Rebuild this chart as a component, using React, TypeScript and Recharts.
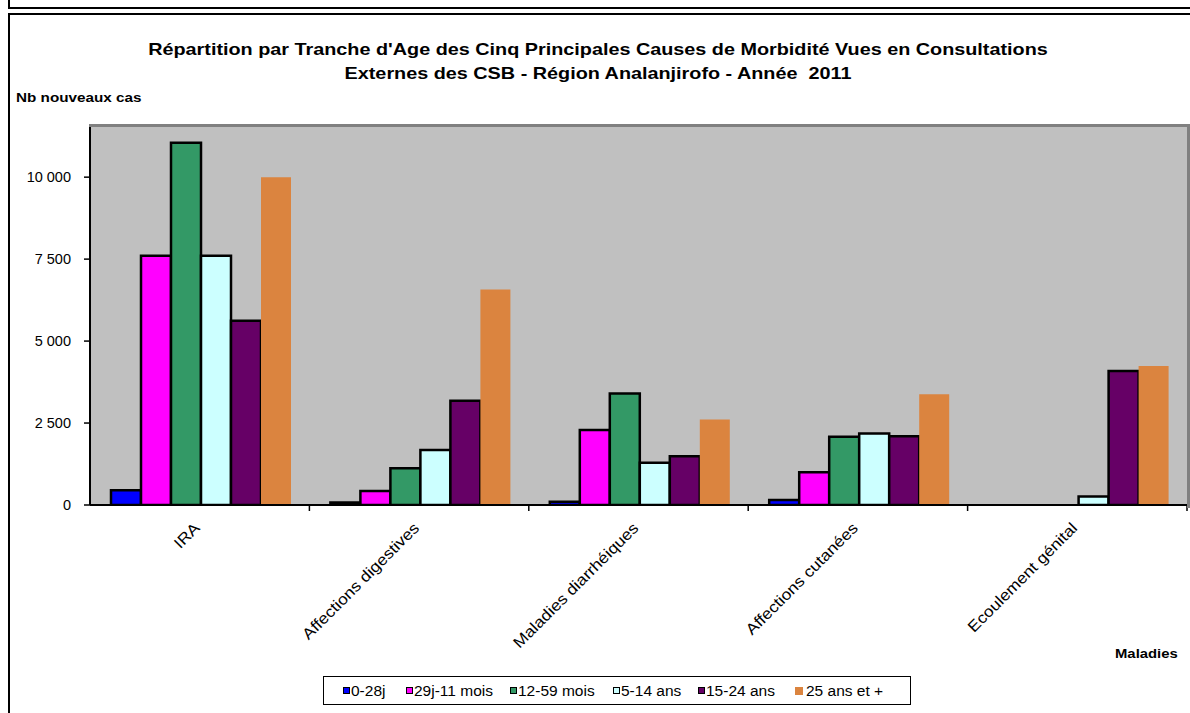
import { BarChart, Bar, XAxis, YAxis, CartesianGrid } from "recharts";

// #region Data
const categories = [
  "IRA",
  "Affections digestives",
  "Maladies diarrhéiques",
  "Affections cutanées",
  "Ecoulement génital",
];
const ageGroups = ["0-28j", "29j-11 mois", "12-59 mois", "5-14 ans", "15-24 ans", "25 ans et +"];

const cas0_28j = [450, 80, 100, 150, 0];
const cas29j_11mois = [7600, 430, 2290, 1000, 0];
const cas12_59mois = [11050, 1120, 3400, 2080, 0];
const cas5_14ans = [7600, 1680, 1290, 2180, 260];
const cas15_24ans = [5620, 3180, 1490, 2100, 4090];
const cas25ansPlus = [10000, 6570, 2610, 3380, 4240];

const yTicks = [0, 2500, 5000, 7500, 10000];
// #endregion

const seriesValues = [cas0_28j, cas29j_11mois, cas12_59mois, cas5_14ans, cas15_24ans, cas25ansPlus];
const colors = ["#0000FF", "#FF00FF", "#339966", "#CCFFFF", "#660066", "#DB843F"];
const outlined = [true, true, true, true, true, false];
// legend item offsets inside the legend box
const legendX = [19, 82, 186, 289, 374, 471];

const data = categories.map((name, i) => {
  const row: Record<string, string | number> = { name };
  ageGroups.forEach((g, s) => {
    row[g] = seriesValues[s][i];
  });
  return row;
});

const W = 1190;
const H = 713;
const PLOT_LEFT = 90;
const PLOT_RIGHT = 1187;
const PLOT_TOP = 127;
const PLOT_BOTTOM = 505;
const BAND = (PLOT_RIGHT - PLOT_LEFT) / categories.length;
const FONT = "'Liberation Sans', Arial, sans-serif";

const fmt = (v: number) => String(v).replace(/\B(?=(\d{3})+(?!\d))/g, " ");

function CategoryTick(props: any) {
  const { x, y, payload } = props;
  return (
    <g>
      <line x1={x + BAND / 2} y1={y} x2={x + BAND / 2} y2={y + 6} stroke="#000" strokeWidth={1.5} />
      <text
        transform={`translate(${x + 1},${y + 24}) rotate(-45) scale(1.12,1)`}
        textAnchor="end"
        fontSize={15.5}
        fill="#000"
        fontFamily={FONT}
      >
        {payload.value}
      </text>
    </g>
  );
}

const stretch = (sx: number): React.CSSProperties => ({
  display: "inline-block",
  transform: `scaleX(${sx})`,
  transformOrigin: "left center",
  whiteSpace: "nowrap",
});

export default function App() {
  return (
    <div
      style={{
        position: "absolute",
        left: 0,
        top: 0,
        width: W,
        height: H,
        background: "#fff",
        fontFamily: FONT,
        overflow: "hidden",
      }}
    >
      {/* frame lines */}
      <div style={{ position: "absolute", left: 8, top: 0, width: 2, height: 8, background: "#000" }} />
      <div style={{ position: "absolute", left: 8, top: 7, width: W - 8, height: 2, background: "#000" }} />
      <div style={{ position: "absolute", left: 8, top: 13, width: W - 8, height: 2, background: "#000" }} />
      <div style={{ position: "absolute", left: 8, top: 13, width: 2, height: H - 13, background: "#000" }} />

      <div
        style={{
          position: "absolute",
          left: 0,
          top: 37,
          width: 1196,
          textAlign: "center",
          fontWeight: "bold",
          fontSize: 16.5,
          lineHeight: "24px",
          color: "#000",
          transform: "scaleX(1.2)",
          transformOrigin: "598px 0",
        }}
      >
        Répartition par Tranche d'Age des Cinq Principales Causes de Morbidité Vues en Consultations
        <br />
        Externes des CSB - Région Analanjirofo - Année&nbsp; 2011
      </div>
      <div style={{ position: "absolute", left: 16, top: 90, fontWeight: "bold", fontSize: 13.5, color: "#000" }}>
        <span style={stretch(1.13)}>Nb nouveaux cas</span>
      </div>
      <div style={{ position: "absolute", left: 1115, top: 646, fontWeight: "bold", fontSize: 13.5, color: "#000" }}>
        <span style={stretch(1.1)}>Maladies</span>
      </div>

      <div style={{ position: "absolute", left: 0, top: 0 }}>
        <BarChart
          width={W}
          height={H}
          data={data}
          barCategoryGap={21}
          barGap={0}
          margin={{ top: PLOT_TOP, right: W - PLOT_RIGHT, bottom: H - PLOT_BOTTOM - 150, left: 0 }}
        >
          <CartesianGrid fill="#C0C0C0" stroke="none" horizontal={false} vertical={false} />
          <XAxis
            dataKey="name"
            height={150}
            interval={0}
            tickLine={false}
            tickSize={0}
            tickMargin={0}
            axisLine={{ stroke: "#000", strokeWidth: 2 }}
            tick={<CategoryTick />}
          />
          <YAxis
            width={PLOT_LEFT}
            domain={[0, 11530]}
            ticks={yTicks}
            tickFormatter={fmt}
            tickSize={6}
            tickMargin={13}
            tickLine={{ stroke: "#000", strokeWidth: 1.5 }}
            axisLine={{ stroke: "#000", strokeWidth: 2 }}
            tick={{ fill: "#000", fontSize: 14.5, fontFamily: FONT }}
            allowDataOverflow
          />
          {ageGroups.map((g, s) => (
            <Bar
              key={g}
              dataKey={g}
              fill={colors[s]}
              stroke={outlined[s] ? "#000" : "none"}
              strokeWidth={outlined[s] ? 2.5 : 0}
              isAnimationActive={false}
            />
          ))}
        </BarChart>
      </div>

      {/* plot area border (top and right) */}
      <div
        style={{
          position: "absolute",
          left: PLOT_LEFT - 1,
          top: PLOT_TOP - 3,
          width: PLOT_RIGHT - PLOT_LEFT + 1,
          height: PLOT_BOTTOM - PLOT_TOP + 3,
          borderTop: "3px solid #808080",
          borderRight: "3px solid #808080",
          boxSizing: "content-box",
          pointerEvents: "none",
        }}
      />

      {/* legend */}
      <div
        style={{
          position: "absolute",
          left: 323,
          top: 676,
          width: 586,
          height: 27,
          border: "1.5px solid #000",
          fontSize: 15.5,
          color: "#000",
          background: "#fff",
        }}
      >
        {ageGroups.map((g, s) => (
          <div
            key={g}
            style={{
              position: "absolute",
              left: legendX[s],
              top: 0,
              height: 27,
              display: "flex",
              alignItems: "center",
              whiteSpace: "nowrap",
            }}
          >
            <span
              style={{
                display: "inline-block",
                width: outlined[s] ? 5 : 8,
                height: outlined[s] ? 5 : 8,
                background: colors[s],
                border: outlined[s] ? "1.5px solid #000" : "none",
                marginRight: outlined[s] ? 1 : 3,
              }}
            />
            <span>{g}</span>
          </div>
        ))}
      </div>
    </div>
  );
}
